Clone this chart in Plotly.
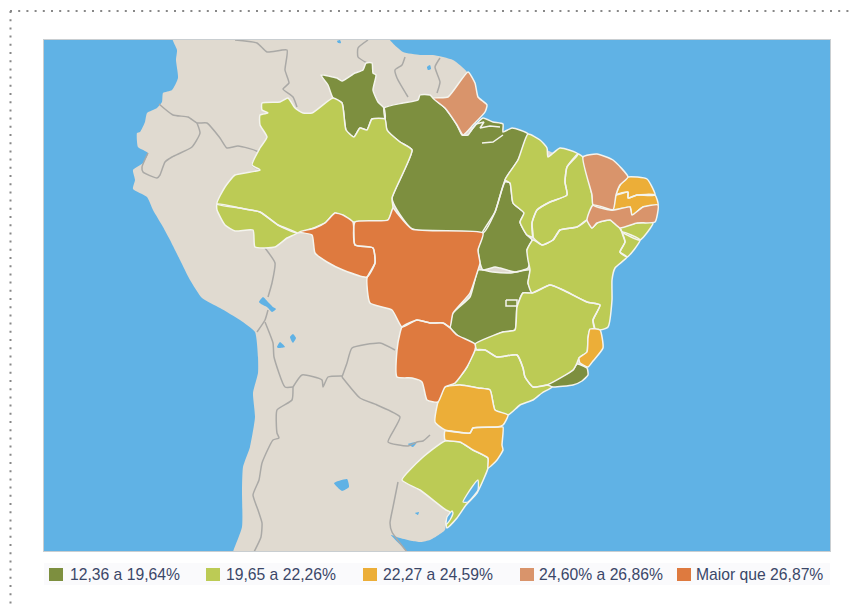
import plotly.graph_objects as go

W, H = 854, 608
PANEL = (44, 830, 40, 551)

# ---- map outlines (map units) ----
LAND = [(172,36),(390,36),(390,40),(403,52),(420,55),(433,55),(453,60),(467,72),(470,95),(465,125),(500,130),(525,140),(580,165),(640,190),(650,210),(640,222),(615,265),(605,300),(600,330),(585,365),(540,388),(510,410),(497,440),(480,480),(460,505),(447,518),(445,530),(437,536),(430,540),(421,542),(412,541),(400,538),(391,535),(407,552),(407,556),(233,556),(233,552),
        (242,527),(242,490),(243,467),(250,447),(255,417),(253,393),(258,373),(258,357),(255,332),(240,320),(220,308),(202,298),(190,280),(180,260),(170,240),(163,227),(153,210),(147,197),(133,189),(135,180),(133,170),(143,163),(148,153),(138,147),(137,133),(140,132),(145,122),(147,113),(157,108),(162,102),(163,93),(172,90),(178,78),(176,60),(177,50)]

AM = [(262,103),(280,102),(288,98),(295,108),(303,113),(312,113),(333,98),(342,103),(346,130),(354,137),(360,128),(367,130),(372,119),(385,119),(387,130),(400,142),(412,150),(392,198),(393,208),(388,220),(353,222),(335,213),(325,223),(297,233),(278,225),(260,212),(240,208),(217,204),(225,187),(235,175),(260,170),(252,165),(260,148),(267,137),(260,125),(260,115),(268,113),(262,110)]
AC = [(217,204),(240,208),(260,212),(278,225),(297,233),(287,238),(275,247),(255,247),(253,230),(235,231),(225,225),(217,210)]
RR = [(321,75),(337,78),(342,81),(355,73),(363,70),(366,63),(372,63),(373,73),(376,75),(373,90),(378,102),(384,108),(385,119),(372,119),(367,130),(360,128),(354,137),(346,130),(342,103),(333,98),(328,85)]
PA = [(384,108),(403,103),(418,100),(420,95),(430,95),(433,98),(445,108),(457,125),(462,135),(468,135),(473,128),(483,118),(493,122),(503,124),(503,132),(512,128),(528,134),(518,160),(505,180),(495,212),(483,233),(412,229),(397,210),(392,198),(412,150),(400,142),(387,130),(385,119)]
AP = [(433,98),(448,97),(468,72),(475,83),(478,97),(487,105),(485,112),(473,125),(463,135),(457,125),(445,108)]
MA = [(528,134),(540,140),(547,148),(548,157),(560,148),(578,154),(567,167),(565,182),(567,195),(550,202),(537,210),(532,223),(533,237),(527,235),(520,222),(524,213),(513,203),(510,183),(505,180),(518,160)]
PI = [(578,154),(583,157),(592,195),(593,205),(587,220),(577,227),(560,230),(553,240),(542,245),(533,237),(532,223),(537,210),(550,202),(567,195),(565,182),(567,167)]
CE = [(583,157),(597,154),(613,160),(628,177),(620,185),(616,195),(613,210),(593,205),(592,195)]
RN = [(628,177),(647,179),(655,195),(637,195),(628,198),(628,192),(616,195),(620,185)]
PB = [(616,195),(628,192),(628,198),(637,195),(655,195),(658,205),(643,207),(632,215),(630,207),(613,210)]
PE = [(593,205),(613,210),(630,207),(632,215),(643,207),(658,205),(655,222),(637,223),(620,228),(610,220),(597,223),(592,228),(587,220)]
AL = [(620,228),(637,223),(653,223),(640,240),(622,232)]
SE = [(622,232),(640,240),(627,257),(620,252),(625,242)]
BA = [(587,220),(592,228),(597,223),(610,220),(620,228),(622,232),(625,242),(620,252),(627,257),(615,268),(612,280),(612,300),(608,327),(600,330),(595,330),(593,320),(600,305),(587,302),(563,290),(550,285),(532,293),(528,283),(530,270),(528,260),(527,250),(533,240),(542,245),(553,240),(560,230),(577,227)]
TO = [(505,182),(510,183),(513,203),(524,213),(520,222),(527,235),(532,240),(527,250),(530,260),(528,268),(515,272),(500,268),(495,267),(483,270),(480,263),(478,250),(482,233),(495,212)]
GO = [(483,270),(493,272),(510,273),(530,270),(528,283),(532,293),(523,293),(517,307),(515,330),(503,332),(475,344),(457,335),(450,327),(453,313),(470,297),(478,270)]
MG = [(475,344),(503,332),(515,330),(517,307),(523,293),(532,293),(550,285),(563,290),(587,302),(600,305),(593,320),(595,330),(590,330),(588,338),(587,352),(579,358),(577,363),(573,370),(547,385),(533,387),(525,377),(523,368),(517,355),(497,357),(485,350),(477,350)]
ES = [(590,329),(600,330),(603,348),(593,361),(588,367),(580,363),(579,358),(587,352),(588,338)]
RJ = [(547,385),(573,370),(577,364),(587,368),(588,375),(582,381),(573,385),(553,387)]
SP = [(475,350),(485,350),(497,357),(517,355),(523,368),(525,377),(533,387),(547,385),(552,387),(542,393),(533,400),(520,405),(508,415),(495,410),(490,390),(478,388),(460,385),(445,387),(455,383),(467,367)]
MT = [(355,222),(388,220),(393,208),(397,213),(412,229),(483,233),(478,250),(480,263),(478,270),(470,293),(453,313),(450,327),(443,323),(430,323),(417,320),(402,327),(392,310),(370,303),(367,278),(375,263),(373,248),(355,245)]
RO = [(299,232),(315,228),(325,223),(335,213),(343,215),(353,222),(355,245),(373,248),(375,263),(367,277),(343,270),(327,262),(315,253),(312,235)]
MS = [(402,327),(417,320),(430,323),(443,323),(450,328),(457,335),(475,344),(475,350),(467,367),(455,383),(445,387),(438,402),(427,400),(422,382),(412,378),(397,377),(397,350),(400,333)]
PR = [(445,387),(460,385),(478,388),(490,390),(495,410),(508,415),(503,425),(497,427),(473,428),(470,433),(445,430),(435,422),(438,402)]
SC = [(445,431),(470,433),(473,428),(497,427),(503,427),(502,445),(503,450),(497,460),(488,468),(488,458),(473,450),(460,442),(445,440)]
RS = [(445,441),(460,442),(473,450),(488,458),(488,468),(477,493),(466,505),(457,518),(447,528),(446,522),(450,512),(446,510),(420,490),(402,480),(422,458)]

LAKES = [
    [(259,302),(263,297),(268,302),(273,307),(276,309),(272,312),(267,307),(261,304)],
    [(277,347),(280,342),(285,347),(278,348)],
    [(290,337),(293,334),(296,338),(293,343),(291,340)],
    [(334,483),(347,479),(349,487),(342,491)],
    [(415,513),(419,512),(418,515)],
    [(408,444),(417,442),(413,447)],
    [(427,67),(430,65),(431,69),(428,70)],
    [(337,41),(340,40),(341,43),(338,43)],
]
LAGOONS = [
    [(463,502),(472,487),(478,480),(478,490),(468,502)],
    [(446,525),(447,517),(452,511),(453,513),(450,520)],
]
BORDERS = [
    [(235,40),(257,43),(267,52),(287,50),(285,70),(289,83),(283,89),(293,97),(297,107)],
    [(159,104),(173,115),(188,117),(197,123),(207,123),(220,138),(227,148),(238,146),(258,152),(252,165),(260,170)],
    [(197,123),(200,133),(192,147),(172,157),(165,162),(160,175),(157,178),(143,172),(142,167),(148,153)],
    [(368,40),(358,48),(358,57),(367,63)],
    [(405,57),(402,65),(395,70),(397,78),(408,97)],
    [(440,58),(435,67),(440,82),(437,93)],
    [(265,248),(275,263),(272,283),(268,297)],
    [(268,310),(265,320),(257,332)],
    [(265,322),(273,343),(274,357),(285,387),(293,387)],
    [(293,387),(302,375),(322,380),(323,387),(328,377),(342,376)],
    [(342,377),(347,363),(352,348),(380,343),(395,350)],
    [(342,377),(360,398),(377,405),(400,417),(388,442),(408,446),(417,442),(423,441),(430,435)],
    [(293,387),(292,400),(277,410),(277,433),(279,438),(273,440),(262,463),(259,480),(253,495),(258,510),(262,523),(261,537),(254,552)],
    [(398,482),(393,507),(390,523),(392,532),(407,552)],
]
RIVERS = [
    [(470,132),(476,124),(484,122),(480,128),(490,126),(500,127)],
    [(482,143),(493,142),(503,135)],
    [(506,300),(517,300),(517,306),(506,306),(506,300)],
]

LABELS = ["12,36 a 19,64%", "19,65 a 22,26%", "22,27 a 24,59%", "24,60% a 26,86%", "Maior que 26,87%"]
COLORS = ["#7d8f3f", "#bccb55", "#ecae38", "#d9946b", "#de7a3f"]
CLASSES = [[RR, PA, TO, GO, RJ], [AM, AC, MA, PI, AL, SE, BA, MG, SP, RS], [RN, PB, ES, PR, SC], [AP, CE, PE], [MT, RO, MS]]
SWATCH_X = [49, 206, 363, 520, 677]
TEXT_X = [68, 224, 381, 537, 694]


def path(polys, close=True):
    xs, ys = [], []
    for p in polys:
        q = list(p) + ([p[0]] if close else [])
        xs += [a for a, _ in q] + [None]
        ys += [b for _, b in q] + [None]
    return xs, ys


def px(x):
    return x / W


def py(y):
    return 1 - y / H


SMOOTH = dict(shape="spline", smoothing=0.5)
fig = go.Figure()
x, y = path([LAND])
fig.add_trace(go.Scatter(x=x, y=y, fill="toself", fillcolor="#e0dad0", mode="lines", line=dict(width=0, **SMOOTH), hoverinfo="skip", name="Terra"))
x, y = path(LAKES)
fig.add_trace(go.Scatter(x=x, y=y, fill="toself", fillcolor="#60b2e5", mode="lines", line=dict(width=0, **SMOOTH), hoverinfo="skip", name="Lagos"))
x, y = path(BORDERS, close=False)
fig.add_trace(go.Scatter(x=x, y=y, mode="lines", line=dict(color="#aaa9a6", width=1.5, **SMOOTH), hoverinfo="skip", name="Fronteiras"))
for label, color, polys in zip(LABELS, COLORS, CLASSES):
    x, y = path(polys)
    fig.add_trace(go.Scatter(x=x, y=y, fill="toself", fillcolor=color, mode="lines", line=dict(color="#f4f4ee", width=1.5, **SMOOTH), name=label))
x, y = path(LAGOONS)
fig.add_trace(go.Scatter(x=x, y=y, fill="toself", fillcolor="#60b2e5", mode="lines", line=dict(color="#f4f4ee", width=1.3, **SMOOTH), hoverinfo="skip", name="Lagoas"))
x, y = path(RIVERS, close=False)
fig.add_trace(go.Scatter(x=x, y=y, mode="lines", line=dict(color="#f4f4ee", width=1.5), hoverinfo="skip", name="Rios"))

shapes = [
    dict(type="line", xref="paper", yref="paper", x0=px(10), x1=1, y0=py(11), y1=py(11), line=dict(color="#888888", width=2, dash="2px,6.2px")),
    dict(type="line", xref="paper", yref="paper", x0=px(10.5), x1=px(10.5), y0=py(11), y1=0, line=dict(color="#888888", width=2, dash="2px,6.2px")),
    dict(type="rect", xref="paper", yref="paper", x0=px(44), x1=px(830), y0=py(563), y1=py(585), fillcolor="#fafafc", line=dict(width=0), layer="below"),
]
annotations = []
for label, color, sx, tx in zip(LABELS, COLORS, SWATCH_X, TEXT_X):
    shapes.append(dict(type="rect", xref="paper", yref="paper", x0=px(sx), x1=px(sx + 14), y0=py(581), y1=py(568), fillcolor=color, line=dict(width=0)))
    annotations.append(dict(xref="paper", yref="paper", x=px(tx), y=py(574.5), text=label, showarrow=False, xanchor="left", yanchor="middle",
                            font=dict(family="Liberation Sans", size=15.7, color="#3b4768")))

fig.update_layout(
    width=W, height=H, margin=dict(l=0, r=0, t=0, b=0), paper_bgcolor="white", plot_bgcolor="#60b2e5",
    showlegend=False, shapes=shapes, annotations=annotations,
    xaxis=dict(range=[PANEL[0], PANEL[1]], domain=[px(PANEL[0]), px(PANEL[1])], visible=True, showgrid=False, zeroline=False, showticklabels=False, ticks="", showline=True, mirror=True, linecolor="#c9ced1", linewidth=1),
    yaxis=dict(range=[PANEL[3], PANEL[2]], domain=[py(PANEL[3]), py(PANEL[2])], visible=True, showgrid=False, zeroline=False, showticklabels=False, ticks="", showline=True, mirror=True, linecolor="#c9ced1", linewidth=1),
)
fig.write_html("out.html", config=dict(displayModeBar=False), post_script="document.body.style.margin='0';document.documentElement.style.overflow='hidden';")
